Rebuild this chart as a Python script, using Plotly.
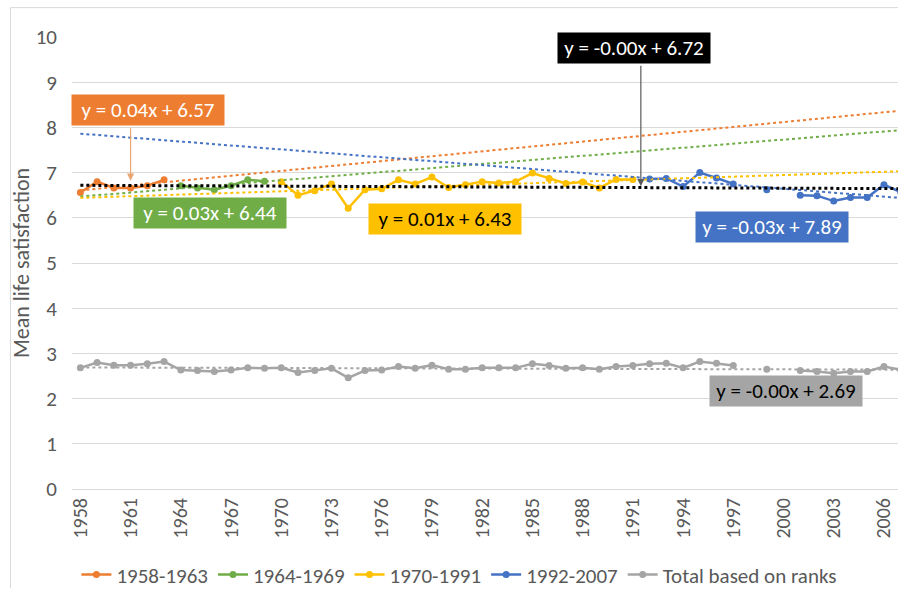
import numpy as np
import plotly.graph_objects as go

# --- data ---
years_58_63 = [1958, 1959, 1960, 1961, 1962, 1963]
vals_58_63 = [6.56, 6.80, 6.66, 6.66, 6.71, 6.84]

years_64_69 = [1964, 1965, 1966, 1967, 1968, 1969]
vals_64_69 = [6.71, 6.66, 6.62, 6.71, 6.84, 6.81]

years_70_91 = list(range(1970, 1992))
vals_70_91 = [6.80, 6.50, 6.60, 6.75, 6.21, 6.62, 6.64, 6.84, 6.75, 6.90, 6.67,
              6.73, 6.80, 6.77, 6.80, 6.99, 6.87, 6.76, 6.79, 6.66, 6.85, 6.85]

years_92_07 = list(range(1992, 2008))
vals_92_07 = [6.86, 6.87, 6.69, 7.00, 6.88, 6.75, None, 6.62, None, 6.50,
              6.49, 6.37, 6.45, 6.45, 6.73, 6.57]

years_total = list(range(1958, 2008))
vals_total = [2.68, 2.80, 2.74, 2.74, 2.77, 2.82, 2.63, 2.62, 2.60, 2.63,
              2.68, 2.67, 2.68, 2.58, 2.62, 2.67, 2.46, 2.62, 2.63, 2.71,
              2.67, 2.74, 2.65, 2.65, 2.68, 2.68, 2.68, 2.77, 2.73, 2.67,
              2.68, 2.65, 2.71, 2.73, 2.77, 2.78, 2.68, 2.82, 2.78, 2.73,
              None, 2.65, None, 2.62, 2.60, 2.56, 2.60, 2.60, 2.71, 2.64]

# linear trendlines (Excel style, x = 1 at 1958)
trend_slopes = [0.036, 0.030, 0.012, -0.029, -0.0015, -0.001]
trend_intercepts = [6.57, 6.44, 6.43, 7.89, 6.72, 2.69]
trend_labels = ["y = 0.04x + 6.57", "y = 0.03x + 6.44", "y = 0.01x + 6.43",
                "y = -0.03x + 7.89", "y = -0.00x + 6.72", "y = -0.00x + 2.69"]

ORANGE = "#ED7D31"
GREEN = "#70AD47"
YELLOW = "#FFC000"
BLUE = "#4472C4"
GREY = "#A5A5A5"
BLACK = "#000000"
trend_colors = [ORANGE, GREEN, YELLOW, BLUE, BLACK, GREY]

FONT = "Carlito, Calibri, Liberation Sans Narrow, Liberation Sans, sans-serif"
TXT = "#595959"

fig = go.Figure()

series = [
    ("1958-1963", years_58_63, vals_58_63, ORANGE),
    ("1964-1969", years_64_69, vals_64_69, GREEN),
    ("1970-1991", years_70_91, vals_70_91, YELLOW),
    ("1992-2007", years_92_07, vals_92_07, BLUE),
    ("Total based on ranks", years_total, vals_total, GREY),
]
for name, xs, ys, col in series:
    fig.add_trace(go.Scatter(
        x=xs, y=ys, name=name, mode="lines+markers",
        line=dict(color=col, width=2.5),
        marker=dict(color=col, size=7),
        connectgaps=False,
    ))

trend_x = np.array([years_total[0], years_total[-1] + 0.5])
for s, b, col in zip(trend_slopes, trend_intercepts, trend_colors):
    fig.add_trace(go.Scatter(
        x=trend_x, y=b + s * (trend_x - 1957), mode="lines",
        line=dict(color=col, width=3 if col == BLACK else 2, dash="dot"),
        showlegend=False, hoverinfo="skip",
    ))

# label boxes: (x year, y value, bg, text colour)
box_pos = [
    (1962.06, 8.38, ORANGE, "white"),
    (1965.73, 6.11, GREEN, "white"),
    (1979.76, 5.97, YELLOW, "black"),
    (1999.30, 5.79, BLUE, "white"),
    (1991.06, 9.76, BLACK, "white"),
    (2000.17, 2.16, GREY, "black"),
]
annotations = []
for (bx, by, bg, fc), txt in zip(box_pos, trend_labels):
    annotations.append(dict(
        x=bx, y=by, xref="x", yref="y", text=txt, showarrow=False,
        bgcolor=bg, font=dict(family=FONT, size=21, color=fc),
        width=152, height=30, borderpad=0,
    ))

annotations.append(dict(
    x=1961.0, y=6.82, xref="x", yref="y", text="", showarrow=True,
    ax=0, ay=-54, arrowhead=2, arrowsize=1.2, arrowwidth=1.2,
    arrowcolor="#E9A673",
))
annotations.append(dict(
    x=1991.48, y=6.70, xref="x", yref="y", text="", showarrow=True,
    ax=0, ay=-122, arrowhead=2, arrowsize=1.2, arrowwidth=1.2,
    arrowcolor="#595959",
))

fig.update_layout(
    width=898, height=589,
    margin=dict(l=72, r=0, t=37, b=100),
    paper_bgcolor="white", plot_bgcolor="white",
    font=dict(family=FONT, color=TXT, size=18),
    showlegend=True,
    legend=dict(orientation="h", x=0.469, xanchor="center",
                yref="container", y=0.024, yanchor="middle",
                font=dict(family=FONT, size=21, color=TXT),
                itemwidth=30, tracegroupgap=0, bgcolor="rgba(0,0,0,0)"),
    annotations=annotations,
    shapes=[
        dict(type="line", xref="paper", yref="paper", x0=-0.0745, x1=1.0,
             y0=1.065, y1=1.065, line=dict(color="#D9D9D9", width=1)),
        dict(type="line", xref="paper", yref="paper", x0=-0.0745, x1=-0.0745,
             y0=1.065, y1=-0.22, line=dict(color="#D9D9D9", width=1)),
    ],
)

fig.update_xaxes(
    range=[1957.5, 2006.84], tickvals=list(range(1958, 2007, 3)),
    tickangle=-90, showgrid=False, zeroline=False, automargin=False,
    showline=True, linecolor="#D9D9D9", linewidth=1,
    tickfont=dict(family=FONT, size=20, color=TXT),
)
fig.update_yaxes(
    range=[0, 10], dtick=1, showgrid=True, gridcolor="#D9D9D9",
    zeroline=False, ticklabelstandoff=14, automargin=False,
    tickfont=dict(family=FONT, size=21, color=TXT),
    title=dict(text="Mean life satisfaction", standoff=0,
               font=dict(family=FONT, size=22, color=TXT)),
)

fig.write_html("out.html", config={"displayModeBar": False},
               post_script="document.body.style.margin='0';")
